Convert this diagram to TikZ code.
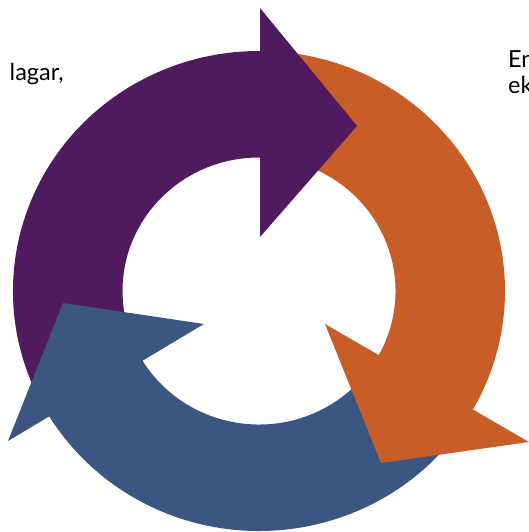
\documentclass[tikz,border=0pt]{standalone}
\usepackage{fontspec}
\setmainfont{Lato}
\definecolor{cpur}{HTML}{4F1B5E}
\definecolor{corg}{HTML}{C95D27}
\definecolor{cblu}{HTML}{3A5681}
\tikzset{
  txt/.style={font=\fontsize{23.5}{26}\selectfont, inner sep=0pt, text=black},
}
\newcommand{\myband}[3]{%
  \fill[#1] ($(C)+(#2:246pt and 240pt)$)
    arc[start angle=#2, end angle=#3, x radius=246pt, y radius=240pt]
    -- ($(C)+(#3:136.5pt and 133.5pt)$)
    arc[start angle=#3, end angle=#2, x radius=136.5pt, y radius=133.5pt]
    -- cycle;}
\usetikzlibrary{calc}
\begin{document}
\begin{tikzpicture}[x=1pt,y=1pt]
\useasboundingbox (0,0) rectangle (529,532);
\clip (0,0) rectangle (529,532);
\coordinate (C) at (259,241);
% bands
\myband{cpur}{208}{88.5}
\myband{corg}{88.8}{-31}
\myband{cblu}{-33}{-151}
% heads
\coordinate (pa) at (260,524);
\coordinate (pt) at (357,406);
\coordinate (pb) at (260,295);
\fill[cpur] (pa) -- (pt) -- (pb) -- cycle;
\coordinate (oa) at (325,208);
\coordinate (ob) at (529,90);
\coordinate (ot) at (381,69);
\fill[corg] (oa) -- (ob) -- (ot) -- cycle;
\coordinate (ba) at (204,208);
\coordinate (bb) at (8,91);
\coordinate (bt) at (63,229);
\fill[cblu] (ba) -- (bb) -- (bt) -- cycle;
% texts
\node[txt, anchor=base east] (t1) at (64,451) {lagar,};
\node[txt, anchor=base west] (t2) at (508,464) {En};
\node[txt, anchor=base west] (t3) at (508,438) {ek};
\end{tikzpicture}
\end{document}
